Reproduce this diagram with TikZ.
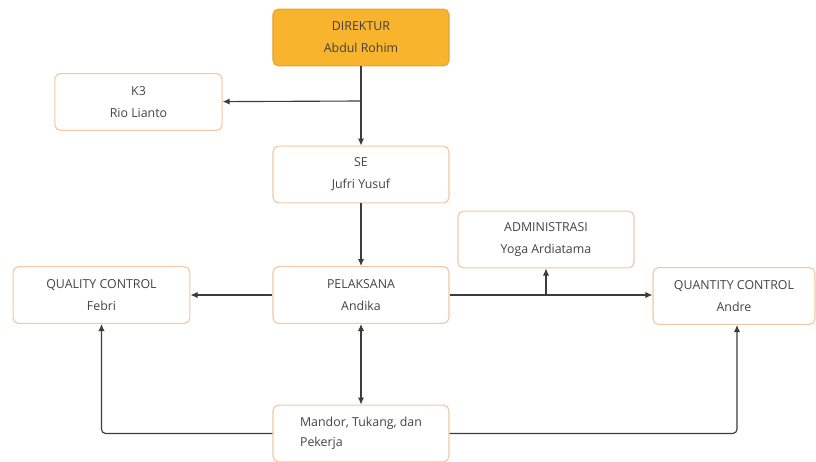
\documentclass[tikz,border=0pt]{standalone}
\usepackage{fontspec}
\setmainfont{Open Sans}
\usetikzlibrary{arrows.meta}
\definecolor{boxline}{HTML}{F0C8A4}
\definecolor{dirfill}{HTML}{F9B42E}
\definecolor{dirline}{HTML}{E6A238}
\definecolor{teks}{HTML}{444444}
\definecolor{garis}{HTML}{3C3C3C}

\begin{document}
\begin{tikzpicture}[x=0.025cm,y=-0.025cm,
	jabatan/.style={draw=boxline, line width=0.8pt, rounded corners=4pt, fill=white,
		minimum width=4.4cm, minimum height=1.42cm, align=center, text=teks,
		font=\fontsize{8.8}{15.5}\selectfont},
	direktur/.style={jabatan, fill=dirfill, draw=dirline, text=black!75},
	panah/.style={draw=garis, line width=0.8pt, -{Latex[length=5pt,width=4.5pt]}},
	duapanah/.style={panah, {Latex[length=5pt,width=4.5pt]}-{Latex[length=5pt,width=4.5pt]}}
]
\useasboundingbox (0,0) rectangle (816,461);

\node[direktur] (dir) at (361,37.5) {DIREKTUR\\Abdul Rohim};
\node[jabatan, minimum width=4.18cm] (k3) at (138.5,102) {K3\\Rio Lianto};
\node[jabatan] (se) at (361,174.5) {SE\\Jufri Yusuf};
\node[jabatan] (adm) at (546,239.5) {ADMINISTRASI\\Yoga Ardiatama};
\node[jabatan, minimum width=4.42cm] (qc) at (101.5,295) {QUALITY CONTROL\\Febri};
\node[jabatan] (pel) at (361,295) {PELAKSANA\\Andika};
\node[jabatan, minimum width=4.05cm] (qty) at (734,296) {QUANTITY CONTROL\\Andre};
\node[jabatan, align=left, font=\fontsize{8.8}{14}\selectfont] (man) at (361,433.5) {Mandor, Tukang, dan\\Pekerja};

\coordinate (cabang) at (361,101);
\coordinate (cabang2) at (546,295);

\draw[panah] (dir) -- (se);
\draw[panah] (cabang) -- (k3);
\draw[panah] (se) -- (pel);
\draw[panah] (pel) -- (qc);
\draw[panah] (pel.east) -- (qty.west |- pel.east);
\draw[panah] (cabang2) -- (adm);
\draw[duapanah] (pel) -- (man);
\draw[panah, rounded corners=3pt] (man.west) -| (qc.south);
\draw[panah, rounded corners=3pt] (man.east) -| ([xshift=3*0.025cm]qty.south);
\end{tikzpicture}
\end{document}
